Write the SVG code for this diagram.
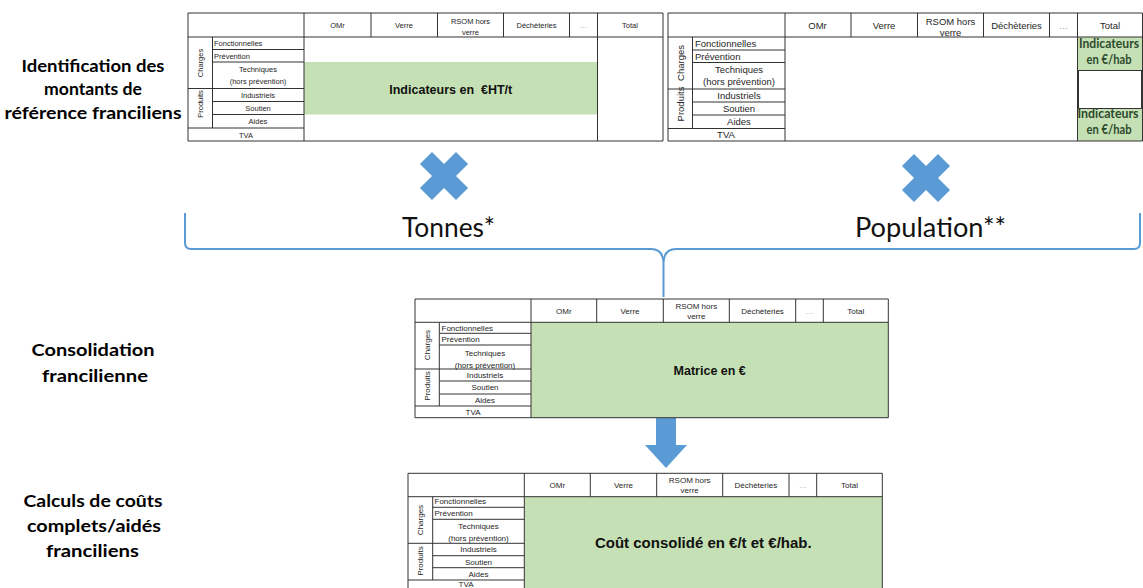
<svg xmlns="http://www.w3.org/2000/svg" width="1143" height="588" viewBox="0 0 1143 588">
<style>
  .grid{fill:none;stroke:#333;stroke-width:1}
  .fill{fill:#c5e0b4}
  .t{font-family:"Liberation Sans",Arial,sans-serif;fill:#262626}
  .c{text-anchor:middle}
  .b{font-weight:bold;fill:#111}
  .dots{fill:#9a9a9a}
  .side{font-family:Lato,"Open Sans",sans-serif;font-weight:bold;font-size:17px;fill:#000;text-anchor:middle}
  .big{font-family:Lato,"Open Sans",sans-serif;font-size:26px;fill:#111;text-anchor:middle}
  .hab{font-family:Lato,"Open Sans",sans-serif;font-weight:bold;font-size:12.5px;fill:#2e4a2e;text-anchor:middle}
  .blue{fill:#5b9bd5}
  .brace{fill:none;stroke:#5b9bd5;stroke-width:2}
</style>

<!-- step labels on the left -->
<g id="label-identification">
  <text class="side" x="93" y="71.5" textLength="143" lengthAdjust="spacingAndGlyphs">Identification des</text>
  <text class="side" x="93" y="95.3" textLength="98" lengthAdjust="spacingAndGlyphs">montants de</text>
  <text class="side" x="93" y="118.8" textLength="177" lengthAdjust="spacingAndGlyphs">référence franciliens</text>
</g>
<g id="label-consolidation">
  <text class="side" x="93" y="356" textLength="123" lengthAdjust="spacingAndGlyphs">Consolidation</text>
  <text class="side" x="95" y="382" textLength="106" lengthAdjust="spacingAndGlyphs">francilienne</text>
</g>
<g id="label-calculs">
  <text class="side" x="93" y="507" textLength="139" lengthAdjust="spacingAndGlyphs">Calculs de coûts</text>
  <text class="side" x="94" y="532" textLength="134" lengthAdjust="spacingAndGlyphs">complets/aidés</text>
  <text class="side" x="92.5" y="557" textLength="93" lengthAdjust="spacingAndGlyphs">franciliens</text>
</g>

<!-- reference amounts per tonne -->
<g id="table-tonne" class="t" font-size="7.5" transform="translate(188,13)">
  <rect class="fill" x="116" y="49" width="293.5" height="52.5"/>
  <path class="grid" d="M0,0H475V128H0Z M0,24H475 M116,0V128 M183,0V24 M249.5,0V24 M315.5,0V24 M381.5,0V24 M409.5,0V128 M24.5,24V115 M24.5,36.5H116 M24.5,49H116 M0,75.5H116 M24.5,88.5H116 M24.5,101.5H116 M0,115H116"/>
  <text class="c" x="149.5" y="15">OMr</text>
  <text class="c" x="216" y="15">Verre</text>
  <text class="c" x="282.5" y="11">RSOM hors</text>
  <text class="c" x="282.5" y="21.5">verre</text>
  <text class="c" x="348.5" y="15">Déchèteries</text>
  <text class="c dots" x="395.5" y="15">…</text>
  <text class="c" x="442" y="15">Total</text>
  <text x="26" y="33">Fonctionnelles</text>
  <text x="26" y="45.5">Prévention</text>
  <text class="c" x="70" y="59">Techniques</text>
  <text class="c" x="70" y="70.5">(hors prévention)</text>
  <text class="c" x="70" y="85">Industriels</text>
  <text class="c" x="70" y="98">Soutien</text>
  <text class="c" x="70" y="111">Aides</text>
  <text class="c" x="58" y="124.5">TVA</text>
  <text class="c" transform="translate(15,50) rotate(-90)">Charges</text>
  <text class="c" transform="translate(15,91) rotate(-90)">Produits</text>
  <text class="c b" x="262.75" y="80.5" font-size="12.5" xml:space="preserve">Indicateurs en  €HT/t</text>
</g>

<!-- reference amounts per inhabitant -->
<g id="table-habitant" class="t" font-size="9.5" transform="translate(668,13)">
  <rect class="fill" x="409.5" y="24" width="65" height="33.5"/>
  <rect class="fill" x="409.5" y="95.5" width="65" height="32.5"/>
  <path class="grid" d="M0,0H474.5V128H0Z M0,24H474.5 M117,0V128 M183,0V24 M249.5,0V24 M315.5,0V24 M381.5,0V24 M409.5,0V128 M24.5,24V115.5 M24.5,37H117 M24.5,49.5H117 M0,76H117 M24.5,89H117 M24.5,102H117 M0,115.5H117"/>
  <rect class="grid" x="410.5" y="57.5" width="63" height="38"/>
  <text class="c" x="149.5" y="15.5">OMr</text>
  <text class="c" x="216" y="15.5">Verre</text>
  <text class="c" x="282.5" y="12">RSOM  hors</text>
  <text class="c" x="282.5" y="23">verre</text>
  <text class="c" x="348.5" y="15.5">Déchèteries</text>
  <text class="c dots" x="395.5" y="15.5">…</text>
  <text class="c" x="442" y="15.5">Total</text>
  <text x="27" y="34">Fonctionnelles</text>
  <text x="27" y="46.5">Prévention</text>
  <text class="c" x="71" y="59.5">Techniques</text>
  <text class="c" x="71" y="71.5">(hors prévention)</text>
  <text class="c" x="71" y="86">Industriels</text>
  <text class="c" x="71" y="99">Soutien</text>
  <text class="c" x="71" y="112">Aides</text>
  <text class="c" x="58" y="125">TVA</text>
  <text class="c" transform="translate(15.5,50) rotate(-90)">Charges</text>
  <text class="c" transform="translate(15.5,91) rotate(-90)">Produits</text>
  <text class="hab" x="441" y="35.3" textLength="60" lengthAdjust="spacingAndGlyphs">Indicateurs</text>
  <text class="hab" x="441" y="51" textLength="45" lengthAdjust="spacingAndGlyphs">en €/hab</text>
  <text class="hab" x="440" y="105.3" textLength="61" lengthAdjust="spacingAndGlyphs">Indicateurs</text>
  <text class="hab" x="441" y="121" textLength="45" lengthAdjust="spacingAndGlyphs">en €/hab</text>
</g>

<!-- multiplication signs -->
<g id="times-tonnes" class="blue" transform="translate(444,176)">
  <rect x="-25.5" y="-8.5" width="51" height="17" transform="rotate(45)"/>
  <rect x="-25.5" y="-8.5" width="51" height="17" transform="rotate(-45)"/>
</g>
<g id="times-population" class="blue" transform="translate(926,178)">
  <rect x="-25.5" y="-8.5" width="51" height="17" transform="rotate(45)"/>
  <rect x="-25.5" y="-8.5" width="51" height="17" transform="rotate(-45)"/>
</g>

<g id="factor-tonnes">
  <text class="big" x="448.5" y="237.3" textLength="93" lengthAdjust="spacingAndGlyphs">Tonnes*</text>
</g>
<g id="factor-population">
  <text class="big" x="930.5" y="237.3" textLength="151" lengthAdjust="spacingAndGlyphs">Population**</text>
</g>

<!-- connectors -->
<g id="connectors">
  <path class="brace" d="M185,213V243Q185,249 191,249H651Q663.5,249 663.5,264V297 M663.5,264Q663.5,249 676,249H1134Q1140,249 1140,243V213"/>
  <path class="blue" d="M656,418H676V445H687L666,468L645,445H656Z"/>
</g>

<!-- consolidated matrix -->
<g id="table-matrice" class="t" font-size="8" transform="translate(415,299)">
  <rect class="fill" x="116" y="23.3" width="357.3" height="95.4"/>
  <path class="grid" d="M0,0H473.3V118.7H0Z M0,23.3H473.3 M116,0V118.7 M181.7,0V23.3 M248.3,0V23.3 M314.3,0V23.3 M380.7,0V23.3 M408.3,0V23.3 M24.3,23.3V107 M24.3,34.3H116 M24.3,46H116 M0,70H116 M24.3,82H116 M24.3,95H116 M0,107H116"/>
  <text class="c" x="148.8" y="14.5">OMr</text>
  <text class="c" x="215" y="14.5">Verre</text>
  <text class="c" x="281.3" y="9.5">RSOM hors</text>
  <text class="c" x="281.3" y="19.5">verre</text>
  <text class="c" x="347.5" y="14.5">Déchèteries</text>
  <text class="c dots" x="394.5" y="14.5">…</text>
  <text class="c" x="440.8" y="14.5">Total</text>
  <text x="26.5" y="31.7">Fonctionnelles</text>
  <text x="26.5" y="43">Prévention</text>
  <text class="c" x="70" y="57.2">Techniques</text>
  <text class="c" x="70" y="68.9">(hors prévention)</text>
  <text class="c" x="70" y="78.9">Industriels</text>
  <text class="c" x="70" y="91.4">Soutien</text>
  <text class="c" x="70" y="103.9">Aides</text>
  <text class="c" x="58" y="115.7">TVA</text>
  <text class="c" transform="translate(15,46) rotate(-90)">Charges</text>
  <text class="c" transform="translate(15,87) rotate(-90)">Produits</text>
  <text class="c b" x="294.7" y="76" font-size="12.5">Matrice en €</text>
</g>

<!-- consolidated costs -->
<g id="table-couts" class="t" font-size="8" transform="translate(408,473.3)">
  <rect class="fill" x="116.3" y="23.4" width="358" height="95.3"/>
  <path class="grid" d="M0,0H474.3V118.7H0Z M0,23.4H474.3 M116.3,0V118.7 M182.3,0V23.4 M248.7,0V23.4 M314.7,0V23.4 M381,0V23.4 M408.7,0V23.4 M24.7,23.4V106.7 M24.7,34H116.3 M24.7,46H116.3 M0,70H116.3 M24.7,82.4H116.3 M24.7,94.4H116.3 M0,106.7H116.3"/>
  <text class="c" x="149.3" y="14.5">OMr</text>
  <text class="c" x="215.5" y="14.5">Verre</text>
  <text class="c" x="281.7" y="9.5">RSOM hors</text>
  <text class="c" x="281.7" y="19.5">verre</text>
  <text class="c" x="347.8" y="14.5">Déchèteries</text>
  <text class="c dots" x="394.8" y="14.5">…</text>
  <text class="c" x="441.5" y="14.5">Total</text>
  <text x="26.5" y="30.9">Fonctionnelles</text>
  <text x="26.5" y="42.9">Prévention</text>
  <text class="c" x="70.5" y="55.5">Techniques</text>
  <text class="c" x="70.5" y="67.5">(hors prévention)</text>
  <text class="c" x="70.5" y="79">Industriels</text>
  <text class="c" x="70.5" y="91.3">Soutien</text>
  <text class="c" x="70.5" y="103.4">Aides</text>
  <text class="c" x="58" y="113.8">TVA</text>
  <text class="c" transform="translate(15.3,46.7) rotate(-90)">Charges</text>
  <text class="c" transform="translate(15.3,87.7) rotate(-90)">Produits</text>
  <text class="c b" x="295.3" y="75" font-size="15">Coût consolidé en €/t et €/hab.</text>
</g>
</svg>
